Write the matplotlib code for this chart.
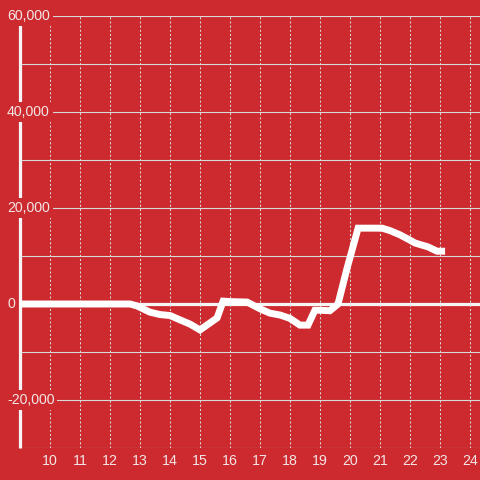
import matplotlib
matplotlib.use("Agg")
import matplotlib.pyplot as plt

# data
x_vals = [9.0, 12.67, 12.9, 13.33, 13.67, 14.0, 14.33, 14.67, 15.0, 15.57, 15.77, 16.0, 16.57,
          17.0, 17.33, 17.67, 18.0, 18.33, 18.6, 18.83, 19.0, 19.33, 19.6, 19.9, 20.27, 20.6,
          21.07, 21.33, 21.67, 22.0, 22.17, 22.6, 22.9, 23.17]
y_vals = [0, 0, -400, -1700, -2200, -2400, -3300, -4200, -5400, -2900, 600, 500, 400,
          -1000, -1900, -2300, -3000, -4400, -4400, -1300, -1300, -1400, 0, 7400, 15800, 15800,
          15800, 15300, 14400, 13300, 12700, 11900, 11000, 11000]
x_ticks = list(range(10, 25))
y_label_vals = [60000, 40000, 20000, 0, -20000]
y_grid_vals = list(range(-30000, 60001, 10000))

BG = "#cc2a2f"
GRID = "#d9d9d9"
TXT = "#f3e6e6"

fig = plt.figure(figsize=(4.8, 4.8), dpi=100)
fig.patch.set_facecolor(BG)
ax = fig.add_axes([20/480, 32/480, 460/480, 432/480])
ax.set_facecolor(BG)
ax.set_xlim(9.0, 9.0 + 460/30)
ax.set_ylim(-30000, 60000)
for s in ax.spines.values():
    s.set_visible(False)

for gv in y_grid_vals:
    if gv == 0:
        continue
    ax.axhline(gv, color=GRID, lw=0.8, zorder=1)
for xv in x_ticks:
    ax.axvline(xv, color=GRID, lw=0.75, linestyle=(0, (2, 2)), zorder=1)
ax.axhline(0, color="#f5f5f5", lw=2.3, zorder=2)
ax.plot([9.0, 9.0], [-30000, 60000], color="#f5f5f5", lw=2.3, zorder=2, clip_on=False,
        solid_capstyle="butt")

ax.set_xticks(x_ticks)
ax.set_xticklabels([str(v) for v in x_ticks], fontsize=10.2, color=TXT, family="Liberation Sans")
ax.tick_params(axis="x", length=0, pad=4)
ax.set_yticks([])

for yv in y_label_vals:
    ax.text(-13/460, yv, f"{yv:,}", transform=ax.get_yaxis_transform(), ha="left", va="center",
            fontsize=10.2, color=TXT, family="Liberation Sans", zorder=3, clip_on=False,
            bbox=dict(facecolor=BG, edgecolor="none", pad=2))

ax.plot(x_vals, y_vals, color="white", lw=5, zorder=4, solid_joinstyle="miter",
        solid_capstyle="butt", clip_on=False)

fig.savefig("out.png", dpi=100, facecolor=BG)
